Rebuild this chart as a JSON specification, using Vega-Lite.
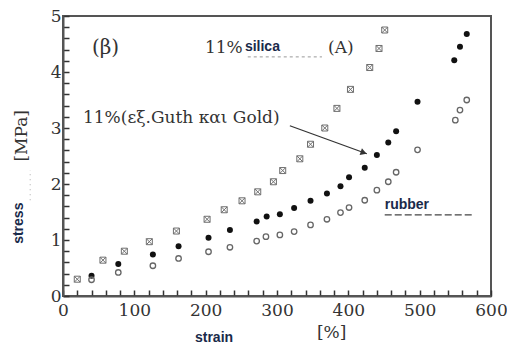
{
  "$schema": "https://vega.github.io/schema/vega-lite/v6.json",
  "autosize": "none",
  "width": 428,
  "height": 280,
  "padding": {"left": 63, "top": 16, "right": 16, "bottom": 53},
  "background": "white",
  "config": {
    "view": {"stroke": "#555", "strokeWidth": 2},
    "axis": {"grid": false, "zindex": 1, "domainColor": "#555", "domainWidth": 2, "ticks": true, "tickColor": "#333", "tickOpacity": 1, "tickSize": -6, "tickWidth": 1.5, "labelFont": "DejaVu Serif", "labelFontSize": 17, "labelColor": "#333", "labelOverlap": false, "labelFlush": false, "title": null}
  },
  "datasets": {
    "pts": [
      {"series": "cross", "strain": 20, "stress": 0.30},
      {"series": "cross", "strain": 56, "stress": 0.64},
      {"series": "cross", "strain": 86, "stress": 0.80},
      {"series": "cross", "strain": 121, "stress": 0.97},
      {"series": "cross", "strain": 159, "stress": 1.16},
      {"series": "cross", "strain": 202, "stress": 1.37},
      {"series": "cross", "strain": 226, "stress": 1.54},
      {"series": "cross", "strain": 251, "stress": 1.70},
      {"series": "cross", "strain": 273, "stress": 1.86},
      {"series": "cross", "strain": 295, "stress": 2.04},
      {"series": "cross", "strain": 308, "stress": 2.24},
      {"series": "cross", "strain": 332, "stress": 2.45},
      {"series": "cross", "strain": 347, "stress": 2.71},
      {"series": "cross", "strain": 367, "stress": 3.00},
      {"series": "cross", "strain": 384, "stress": 3.35},
      {"series": "cross", "strain": 403, "stress": 3.69},
      {"series": "cross", "strain": 430, "stress": 4.08},
      {"series": "cross", "strain": 443, "stress": 4.42},
      {"series": "cross", "strain": 451, "stress": 4.75},
      {"series": "filled", "strain": 40, "stress": 0.36},
      {"series": "filled", "strain": 77.5, "stress": 0.57},
      {"series": "filled", "strain": 126, "stress": 0.74},
      {"series": "filled", "strain": 162, "stress": 0.89},
      {"series": "filled", "strain": 204, "stress": 1.04},
      {"series": "filled", "strain": 234, "stress": 1.18},
      {"series": "filled", "strain": 271.5, "stress": 1.33},
      {"series": "filled", "strain": 285.5, "stress": 1.42},
      {"series": "filled", "strain": 304, "stress": 1.46},
      {"series": "filled", "strain": 324, "stress": 1.57},
      {"series": "filled", "strain": 347, "stress": 1.70},
      {"series": "filled", "strain": 370, "stress": 1.83},
      {"series": "filled", "strain": 389, "stress": 1.96},
      {"series": "filled", "strain": 401, "stress": 2.12},
      {"series": "filled", "strain": 423, "stress": 2.29},
      {"series": "filled", "strain": 440, "stress": 2.52},
      {"series": "filled", "strain": 456, "stress": 2.74},
      {"series": "filled", "strain": 467, "stress": 2.94},
      {"series": "filled", "strain": 497, "stress": 3.47},
      {"series": "filled", "strain": 548.5, "stress": 4.21},
      {"series": "filled", "strain": 556.5, "stress": 4.45},
      {"series": "filled", "strain": 566, "stress": 4.68},
      {"series": "open", "strain": 40, "stress": 0.29},
      {"series": "open", "strain": 77.5, "stress": 0.42},
      {"series": "open", "strain": 126, "stress": 0.54},
      {"series": "open", "strain": 162, "stress": 0.67},
      {"series": "open", "strain": 204, "stress": 0.79},
      {"series": "open", "strain": 234, "stress": 0.87},
      {"series": "open", "strain": 271.5, "stress": 0.98},
      {"series": "open", "strain": 284.5, "stress": 1.06},
      {"series": "open", "strain": 304, "stress": 1.09},
      {"series": "open", "strain": 324, "stress": 1.15},
      {"series": "open", "strain": 347, "stress": 1.27},
      {"series": "open", "strain": 370, "stress": 1.37},
      {"series": "open", "strain": 389, "stress": 1.49},
      {"series": "open", "strain": 401, "stress": 1.58},
      {"series": "open", "strain": 423, "stress": 1.71},
      {"series": "open", "strain": 440, "stress": 1.89},
      {"series": "open", "strain": 456, "stress": 2.04},
      {"series": "open", "strain": 467, "stress": 2.21},
      {"series": "open", "strain": 497, "stress": 2.61},
      {"series": "open", "strain": 550, "stress": 3.14},
      {"series": "open", "strain": 556.5, "stress": 3.32},
      {"series": "open", "strain": 566, "stress": 3.50}
    ],
    "labels": [
      {"kind": "beta", "strain": 40.5, "stress": 4.42, "text": "(β)"},
      {"kind": "serif", "strain": 199, "stress": 4.43, "text": "11%"},
      {"kind": "serif", "strain": 371.5, "stress": 4.43, "text": "(A)"},
      {"kind": "serif", "strain": 28, "stress": 3.18, "text": "11%(εξ.Guth και Gold)"},
      {"kind": "serif", "strain": 356, "stress": -0.66, "text": "[%]"},
      {"kind": "serifrot", "strain": -57.5, "stress": 2.86, "text": "[MPa]"},
      {"kind": "sans", "strain": 255, "stress": 4.45, "text": "silica"},
      {"kind": "sans", "strain": 451, "stress": 1.625, "text": "rubber"},
      {"kind": "sans", "strain": 185, "stress": -0.75, "text": "strain"},
      {"kind": "sansrot", "strain": -61.7, "stress": 1.30, "text": "stress"}
    ],
    "lines": [
      {"kind": "silica", "strain": 259, "strain2": 363, "stress": 4.27, "stress2": 4.27},
      {"kind": "rubber", "strain": 451, "strain2": 575, "stress": 1.45, "stress2": 1.45},
      {"kind": "ytitle", "strain": -46, "strain2": -46, "stress": 1.71, "stress2": 2.25}
    ],
    "arrow": [
      {"strain": 318, "stress": 3.04, "strain2": 426, "stress2": 2.54, "headStrain": 421.5, "headStress": 2.56}
    ]
  },
  "encoding": {
    "x": {"type": "quantitative", "scale": {"domain": [0, 600], "nice": false},
      "axis": {"values": [0,20,40,60,80,100,120,140,160,180,200,220,240,260,280,300,320,340,360,380,400,420,440,460,480,500,520,540,560,580,600],
        "labelExpr": "datum.value % 100 === 0 ? format(datum.value, 'd') : ''",
        "labelPadding": 12}},
    "y": {"type": "quantitative", "scale": {"domain": [0, 5], "nice": false},
      "axis": {"values": [0,0.2,0.4,0.6,0.8,1,1.2,1.4,1.6,1.8,2,2.2,2.4,2.6,2.8,3,3.2,3.4,3.6,3.8,4,4.2,4.4,4.6,4.8,5],
        "labelExpr": "abs(datum.value - round(datum.value)) < 0.01 ? format(datum.value, 'd') : ''",
        "labelPadding": 8}}
  },
  "layer": [
    {
      "data": {"name": "pts"},
      "transform": [{"filter": "datum.series === 'cross'"}],
      "mark": {"type": "point", "shape": "M-1,-1L1,1M1,-1L-1,1M-1,-1H1V1H-1Z", "filled": false, "stroke": "#333", "strokeWidth": 1, "size": 36},
      "encoding": {"x": {"field": "strain"}, "y": {"field": "stress"}}
    },
    {
      "data": {"name": "pts"},
      "transform": [{"filter": "datum.series === 'filled'"}],
      "mark": {"type": "circle", "color": "#111", "opacity": 1, "size": 36},
      "encoding": {"x": {"field": "strain"}, "y": {"field": "stress"}}
    },
    {
      "data": {"name": "pts"},
      "transform": [{"filter": "datum.series === 'open'"}],
      "mark": {"type": "point", "shape": "circle", "filled": false, "stroke": "#666", "strokeWidth": 1.3, "opacity": 1, "size": 30},
      "encoding": {"x": {"field": "strain"}, "y": {"field": "stress"}}
    },
    {
      "data": {"name": "lines"},
      "transform": [{"filter": "datum.kind === 'silica'"}],
      "mark": {"type": "rule", "color": "#999", "strokeDash": [3, 3], "strokeWidth": 1},
      "encoding": {"x": {"field": "strain"}, "x2": {"field": "strain2"}, "y": {"field": "stress"}, "y2": {"field": "stress2"}}
    },
    {
      "data": {"name": "lines"},
      "transform": [{"filter": "datum.kind === 'rubber'"}],
      "mark": {"type": "rule", "color": "#444", "strokeDash": [7, 3], "strokeWidth": 1.2},
      "encoding": {"x": {"field": "strain"}, "x2": {"field": "strain2"}, "y": {"field": "stress"}, "y2": {"field": "stress2"}}
    },
    {
      "data": {"name": "lines"},
      "transform": [{"filter": "datum.kind === 'ytitle'"}],
      "mark": {"type": "rule", "color": "#aaa", "strokeDash": [1, 4], "strokeWidth": 1, "clip": false},
      "encoding": {"x": {"field": "strain"}, "x2": {"field": "strain2"}, "y": {"field": "stress"}, "y2": {"field": "stress2"}}
    },
    {
      "data": {"name": "arrow"},
      "mark": {"type": "rule", "color": "#333", "strokeWidth": 1.3},
      "encoding": {"x": {"field": "strain"}, "x2": {"field": "strain2"}, "y": {"field": "stress"}, "y2": {"field": "stress2"}}
    },
    {
      "data": {"name": "arrow"},
      "mark": {"type": "point", "shape": "triangle-right", "filled": true, "color": "#333", "opacity": 1, "size": 50, "angle": 19},
      "encoding": {"x": {"field": "headStrain"}, "y": {"field": "headStress"}}
    },
    {
      "data": {"name": "labels"},
      "transform": [{"filter": "datum.kind === 'serif'"}],
      "mark": {"type": "text", "font": "DejaVu Serif", "fontSize": 17, "color": "#333", "align": "left", "baseline": "middle"},
      "encoding": {"x": {"field": "strain"}, "y": {"field": "stress"}, "text": {"field": "text"}}
    },
    {
      "data": {"name": "labels"},
      "transform": [{"filter": "datum.kind === 'beta'"}],
      "mark": {"type": "text", "font": "DejaVu Serif", "fontSize": 20, "color": "#333", "align": "left", "baseline": "middle"},
      "encoding": {"x": {"field": "strain"}, "y": {"field": "stress"}, "text": {"field": "text"}}
    },
    {
      "data": {"name": "labels"},
      "transform": [{"filter": "datum.kind === 'serifrot'"}],
      "mark": {"type": "text", "font": "DejaVu Serif", "fontSize": 17, "color": "#333", "align": "center", "baseline": "middle", "angle": 270},
      "encoding": {"x": {"field": "strain"}, "y": {"field": "stress"}, "text": {"field": "text"}}
    },
    {
      "data": {"name": "labels"},
      "transform": [{"filter": "datum.kind === 'sans'"}],
      "mark": {"type": "text", "font": "Liberation Sans", "fontWeight": "bold", "fontSize": 14, "color": "#1a2a4a", "align": "left", "baseline": "middle"},
      "encoding": {"x": {"field": "strain"}, "y": {"field": "stress"}, "text": {"field": "text"}}
    },
    {
      "data": {"name": "labels"},
      "transform": [{"filter": "datum.kind === 'sansrot'"}],
      "mark": {"type": "text", "font": "Liberation Sans", "fontWeight": "bold", "fontSize": 14, "color": "#1a2a4a", "align": "center", "baseline": "middle", "angle": 270},
      "encoding": {"x": {"field": "strain"}, "y": {"field": "stress"}, "text": {"field": "text"}}
    }
  ]
}
